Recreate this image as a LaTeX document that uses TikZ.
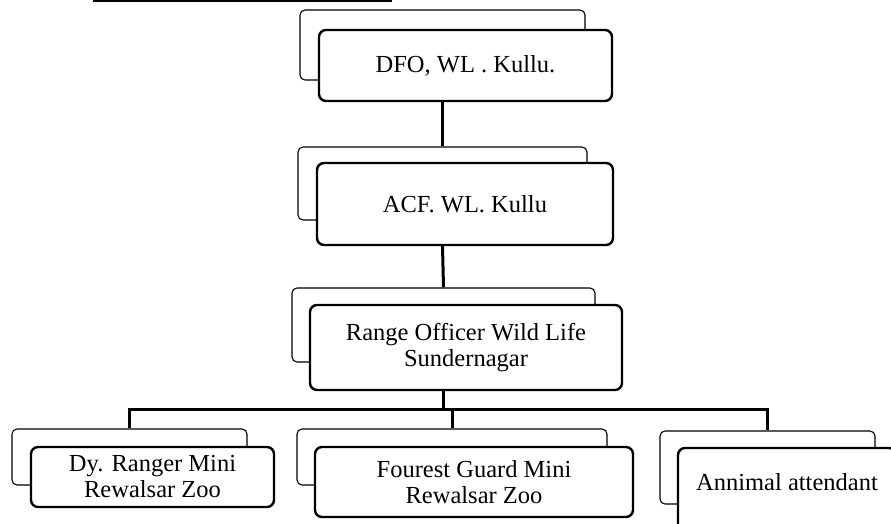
\documentclass[tikz,border=0pt]{standalone}
\usepackage{fontspec}
\setmainfont{Liberation Serif}
\usepackage{tikz}
\usetikzlibrary{positioning}
\tikzstyle{back}=[draw,line width=1.1pt,rounded corners=5pt,fill=white]
\tikzstyle{front}=[draw,line width=2.4pt,rounded corners=7pt,fill=white,align=center,font=\fontsize{24.5}{26}\selectfont]
\tikzstyle{conn}=[line width=3pt]

\begin{document}
\begin{tikzpicture}[x=1pt,y=-1pt]
    \path[use as bounding box,clip] (0,0) rectangle (891,524);
    \draw[line width=2pt] (93,1.5) -- (392,1.5);
    % shadow boxes behind each post
    \foreach \n/\x/\y/\w/\h in {dfoBack/442.5/45/285/70, acfBack/442.5/183.5/289/73, roBack/443.5/325/303/74,
        dyBack/129.5/457/235/56, fgBack/452/457/310/56, aaBack/767.5/467.5/215/73}
        \node[back,minimum width=\w,minimum height=\h] (\n) at (\x,\y) {};
    \node[front,minimum width=293,minimum height=71] (dfo) at (465.5,65.5) {DFO, WL . Kullu.};
    \node[front,minimum width=296,minimum height=82] (acf) at (465,204) {ACF. WL. Kullu};
    \node[front,minimum width=312,minimum height=85] (ro) at (466,347.5) {Range Officer Wild Life\\Sundernagar};
    \node[front,minimum width=243,minimum height=60] (dy) at (152.5,477) {Dy. Ranger Mini\\Rewalsar Zoo};
    \node[front,minimum width=318,minimum height=70] (fg) at (474,482) {Fourest Guard Mini\\Rewalsar Zoo};
    \node[front,minimum width=218,inner ysep=0pt,text height=42,text depth=50,anchor=base] (aa) at (787,490) {Annimal attendant};
    \draw[conn] (dfoBack.south |- dfo.south) -- (acfBack.north);
    \draw[conn] (acfBack.south |- acf.south) -- (roBack.north);
    \draw[conn] (roBack.south |- ro.south) -- ++(0,18) coordinate (bus);
    \draw[conn] (dyBack.north) |- (bus) -| (aaBack.north);
    \draw[conn] (bus -| fgBack.north) -- (fgBack.north);
\end{tikzpicture}
\end{document}
